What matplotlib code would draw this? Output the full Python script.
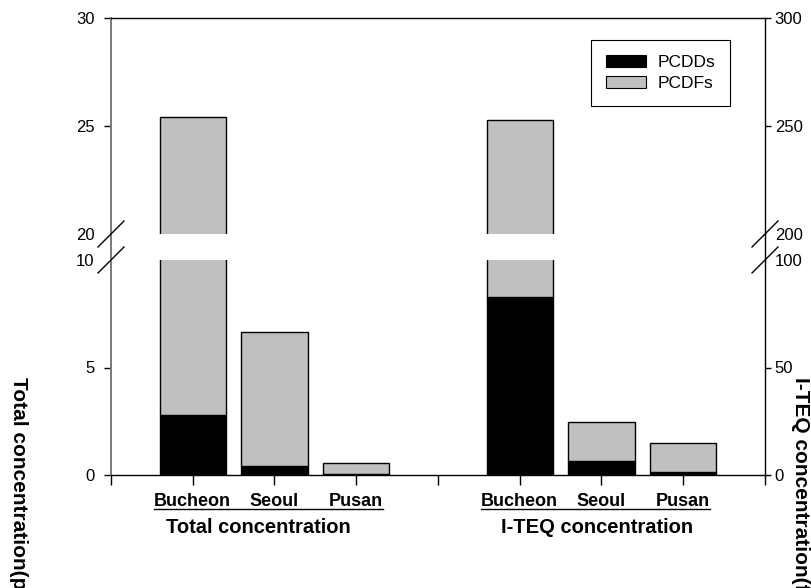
import matplotlib
matplotlib.use("Agg")
import matplotlib.pyplot as plt
from matplotlib.patches import Patch
from matplotlib.lines import Line2D

plt.rcParams['font.family'] = ['Liberation Sans', 'DejaVu Sans']

# ---------------- data ----------------
cities = ["Bucheon", "Seoul", "Pusan"]
total_pcdd = [2.8, 0.4, 0.05]
total_pcdf = [22.6, 6.25, 0.52]
teq_pcdd = [83.0, 6.5, 1.3]
teq_pcdf = [170.0, 18.2, 13.6]
total_pos = [1, 2, 3]
teq_pos = [5, 6, 7]
group_labels = ["Total concentration", "I-TEQ concentration"]
series_names = ["PCDDs", "PCDFs"]
left_ylabel = "Total concentration(pg/m\u00b3)"
right_ylabel = "I-TEQ concentration(fg I-TEQ/m\u00b3)"

W, H = 812, 588
fig = plt.figure(figsize=(W / 100, H / 100), dpi=100)

xl, xr = 111, 765
top_t, top_b = 18, 234
bot_t, bot_b = 260, 475


def fr(x0, y0, x1, y1):
    return [x0 / W, 1 - y1 / H, (x1 - x0) / W, (y1 - y0) / H]


ax_top = fig.add_axes(fr(xl, top_t, xr, top_b))
ax_bot = fig.add_axes(fr(xl, bot_t, xr, bot_b))
ax_top_r = ax_top.twinx()
ax_bot_r = ax_bot.twinx()

black = "#000000"
grey = "#c0c0c0"
bw = 0.81

for ax in (ax_top, ax_bot):
    ax.bar(total_pos, total_pcdd, width=bw, color=black, edgecolor=black, linewidth=1)
    ax.bar(total_pos, total_pcdf, bottom=total_pcdd, width=bw, color=grey,
           edgecolor=black, linewidth=1)
for ax in (ax_top_r, ax_bot_r):
    ax.bar(teq_pos, teq_pcdd, width=bw, color=black, edgecolor=black, linewidth=1)
    ax.bar(teq_pos, teq_pcdf, bottom=teq_pcdd, width=bw, color=grey,
           edgecolor=black, linewidth=1)

ax_top.set_ylim(20, 30)
ax_bot.set_ylim(0, 10)
ax_top_r.set_ylim(200, 300)
ax_bot_r.set_ylim(0, 100)
for ax in (ax_top, ax_bot, ax_top_r, ax_bot_r):
    ax.set_xlim(0, 8)

spine_grey = "#7a7a7a"
for ax in (ax_top, ax_bot):
    ax.spines['right'].set_visible(False)
    ax.spines['left'].set_color(spine_grey)
    ax.spines['left'].set_linewidth(1.4)
for ax in (ax_top_r, ax_bot_r):
    ax.spines['left'].set_visible(False)
    ax.spines['top'].set_visible(False)
    ax.spines['bottom'].set_visible(False)
    ax.spines['right'].set_color(black)
    ax.spines['right'].set_linewidth(1.0)
ax_top.spines['bottom'].set_visible(False)
ax_top.spines['top'].set_linewidth(1.0)
ax_bot.spines['top'].set_visible(False)
ax_bot.spines['bottom'].set_linewidth(1.0)

ax_top.set_yticks([20, 25, 30])
ax_bot.set_yticks([0, 5, 10])
ax_top_r.set_yticks([200, 250, 300])
ax_bot_r.set_yticks([0, 50, 100])
for ax in (ax_top, ax_bot):
    ax.tick_params(axis='y', direction='out', length=5, width=1, pad=7,
                   labelsize=12, color=black)
for ax in (ax_top_r, ax_bot_r):
    ax.tick_params(axis='y', direction='out', length=4, width=1, pad=3,
                   labelsize=12, color=black)
ax_top.yaxis.get_major_ticks()[0].tick1line.set_visible(False)
ax_bot.yaxis.get_major_ticks()[2].tick1line.set_visible(False)
ax_top_r.yaxis.get_major_ticks()[0].tick2line.set_visible(False)
ax_bot_r.yaxis.get_major_ticks()[2].tick2line.set_visible(False)

ax_top.set_xticks([])
for ax in (ax_top_r, ax_bot_r):
    ax.set_xticks([])
xt = list(range(0, 9))
xlabels = [""] * 9
for p, c in zip(total_pos, cities):
    xlabels[p] = c
for p, c in zip(teq_pos, cities):
    xlabels[p] = c
ax_bot.set_xticks(xt)
ax_bot.set_xticklabels(xlabels, fontsize=13, fontweight='bold')
ax_bot.tick_params(axis='x', direction='out', length=7, width=1, pad=6)

ax_bot.text(1.8, -0.242, group_labels[0], transform=ax_bot.get_xaxis_transform(),
            ha='center', va='center', fontsize=14.5, fontweight='bold')
ax_bot.text(5.95, -0.242, group_labels[1], transform=ax_bot.get_xaxis_transform(),
            ha='center', va='center', fontsize=14.5, fontweight='bold')

fig.add_artist(Line2D([xl / W, xl / W], [1 - bot_t / H, 1 - top_b / H],
                      transform=fig.transFigure, color=spine_grey, lw=1.4))
fig.add_artist(Line2D([xr / W, xr / W], [1 - bot_t / H, 1 - top_b / H],
                      transform=fig.transFigure, color=black, lw=1.0))

d = 13
for xx in (xl, xr):
    for yy in (top_b, bot_t):
        fig.add_artist(Line2D([(xx - d) / W, (xx + d) / W],
                              [1 - (yy + d) / H, 1 - (yy - d) / H],
                              transform=fig.transFigure, color=black, lw=1.0))

handles = [Patch(facecolor=black, edgecolor=black, linewidth=0.8),
           Patch(facecolor=grey, edgecolor=black, linewidth=0.8)]
leg = ax_top_r.legend(handles, series_names, loc='upper right',
                      bbox_to_anchor=(0.946, 0.898), fontsize=12.5,
                      fancybox=False, framealpha=1, edgecolor=black,
                      handlelength=2.3, handleheight=0.7, handletextpad=0.65,
                      labelspacing=0.35, borderpad=0.85, borderaxespad=0)
leg.get_frame().set_linewidth(0.8)

fig.text(18 / W, 1 - 377 / H, left_ylabel, rotation=270, ha='center', va='top',
         fontsize=15, fontweight='bold')
fig.text(801 / W, 1 - 377 / H, right_ylabel, rotation=270, ha='center', va='top',
         fontsize=15, fontweight='bold')

fig.canvas.draw()
renderer = fig.canvas.get_renderer()
labs = ax_bot.get_xticklabels()
for group in (total_pos, teq_pos):
    bbs = [labs[p].get_window_extent(renderer) for p in group]
    x0 = min(b.x0 for b in bbs)
    x1 = max(b.x1 for b in bbs)
    y0 = min(b.y0 for b in bbs)
    fig.add_artist(Line2D([x0 / W, x1 / W], [(y0 + 1) / H, (y0 + 1) / H],
                          transform=fig.transFigure, color=black, lw=1.0))

fig.savefig("out.png", dpi=100)
